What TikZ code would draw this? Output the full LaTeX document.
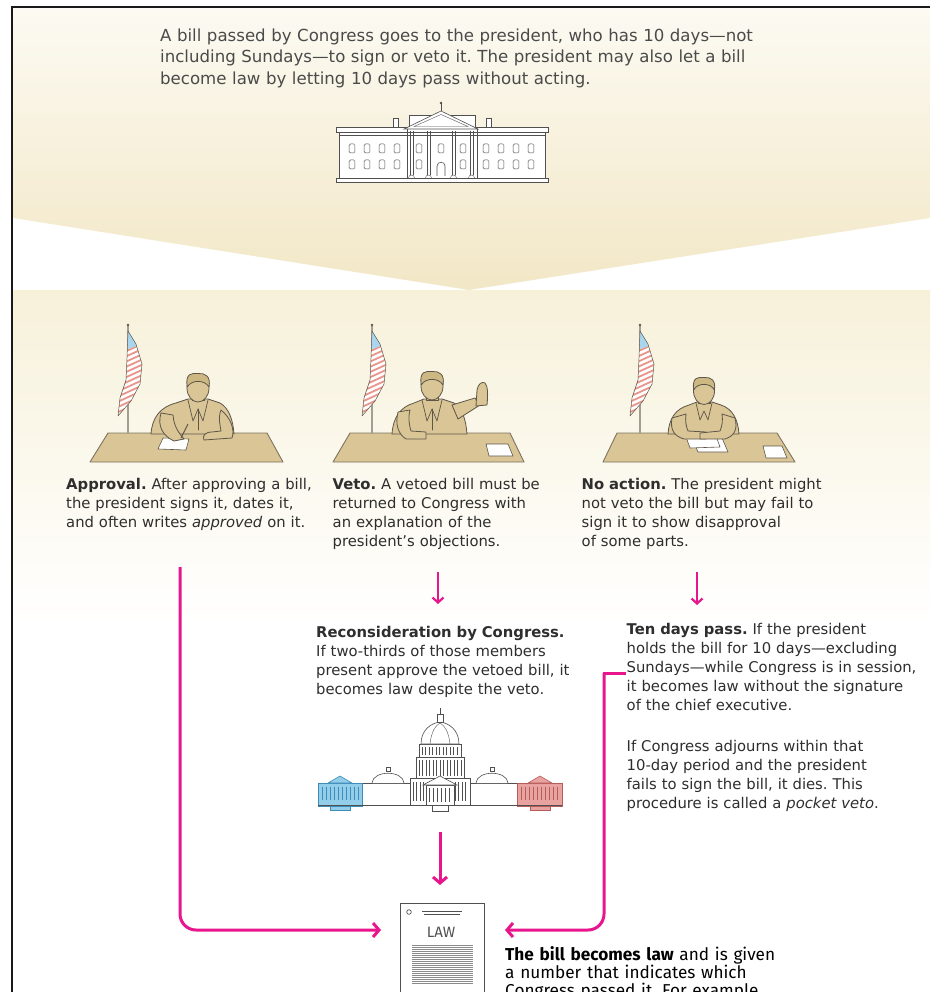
\documentclass[tikz,border=0pt]{standalone}
\usepackage{fontspec}
\setmainfont{DejaVu Sans}
\newfontfamily\firafont{Fira Sans}
\usetikzlibrary{arrows.meta}
\definecolor{pinkc}{HTML}{E8168C}
\definecolor{txt}{HTML}{2E2E2E}
\definecolor{toptxt}{HTML}{4A4A4A}
\definecolor{topA}{HTML}{FCFAF2}
\definecolor{topB}{HTML}{F2E7C6}
\definecolor{bandA}{HTML}{F7F1DA}
\definecolor{tanc}{HTML}{D9C596}
\definecolor{hairc}{HTML}{CDB884}
\definecolor{inkc}{HTML}{5E5648}
\definecolor{deskedge}{HTML}{7D735F}
\definecolor{flagblue}{HTML}{A9D5EF}
\definecolor{flagred}{HTML}{E8958B}
\definecolor{capblue}{HTML}{92CDEA}
\definecolor{capblueink}{HTML}{3E8DB9}
\definecolor{capred}{HTML}{E8A29F}
\definecolor{capredink}{HTML}{B65C59}
\definecolor{bldg}{HTML}{505050}
\definecolor{polec}{HTML}{A39D92}
\definecolor{hatchc}{HTML}{8A8A8A}
\tikzset{
  body/.style={anchor=base west, inner sep=0pt, text width=420pt, align=left, text=txt, font=\fontsize{14.8}{19.1}\selectfont},
  toptext/.style={anchor=base west, inner sep=0pt, text width=720pt, align=left, text=toptxt, font=\fontsize{16.6}{21.4}\selectfont},
  lawtext/.style={anchor=base west, inner sep=0pt, text width=420pt, align=left, text=black, font=\firafont\fontsize{17.2}{18.4}\selectfont},
  bigarrow/.style={draw=pinkc, line width=3pt, -{Straight Barb[length=6pt,width=14pt]}},
  smallarrow/.style={draw=pinkc, line width=2.2pt, -{Straight Barb[length=5pt,width=11pt]}},
  suit/.style={fill=tanc, draw=inkc, line width=0.8pt, line join=round, line cap=round},
  hair/.style={fill=hairc, draw=inkc, line width=0.8pt, line join=round},
  ink/.style={draw=inkc, line width=0.7pt, line cap=round, line join=round},
  desk/.style={fill=tanc, draw=deskedge, line width=0.9pt, line join=round},
  paper/.style={fill=white, draw=inkc, line width=0.6pt, line join=round},
  pole/.style={draw=polec, line width=2.4pt},
  bl/.style={draw=bldg, line width=0.6pt, fill=white},
  bthin/.style={draw=bldg, line width=0.4pt},
  win/.style={draw=bldg, line width=0.5pt, fill=white, rounded corners=1.2pt},
}
\newcommand{\usflag}[1]{%
  \begin{scope}[shift={(#1,0)}]
    \draw[pole] (0,326) -- (0,434);
    \fill[inkc] (0,325) circle (1.4);
    \begin{scope}
      \clip (0,331) -- (8,344) -- (14,364) -- (12,384) -- (3,401) -- (-10,416) -- (-8,398) -- (-2,380) -- (-1,358) -- cycle;
      \fill[white] (-20,320) rectangle (20,420);
      \foreach \k in {0,...,14} \draw[flagred, line width=1.8pt] (-15,352+\k*5.2) -- (20,336+\k*5.2);
      \fill[flagblue] (-20,320) -- (20,320) -- (20,342) -- (-20,356) -- cycle;
    \end{scope}
    \draw[inkc, line width=0.5pt, line join=round] (0,331) -- (8,344) -- (14,364) -- (12,384) -- (3,401) -- (-10,416) -- (-8,398) -- (-2,380) -- (-1,358) -- cycle;
  \end{scope}}
\begin{document}
\frenchspacing
\begin{tikzpicture}[x=1pt,y=-1pt]
\useasboundingbox (0,0) rectangle (930,992);
\fill[white] (0,0) rectangle (930,992);
% backgrounds
\shade[top color=topA, bottom color=topB] (13,8) -- (930,8) -- (930,218) -- (469,290) -- (13,218) -- cycle;
\shade[top color=bandA, bottom color=white] (13,290) rectangle (930,625);
% frame
\draw[black!90, line width=2.2pt] (11,7) -- (930,7);
\draw[black!90, line width=2.4pt] (12,6) -- (12,992);

% intro text
\node[toptext] (intro) at (160,41.5) {A bill passed by Congress goes to the president, who has 10 days—not\\ including Sundays—to sign or veto it. The president may also let a bill\\ become law by letting 10 days pass without acting.};

% White House
\begin{scope}
  \draw[bl] (393,118) rectangle (398,127);
  \draw[bl] (486,118) rectangle (491,127);
  \draw[bl] (409,115) rectangle (475,128);
  \draw[bl] (339,132) rectangle (545,180);
  \draw[bl] (336,127) rectangle (548,132);
  \draw[bthin] (339,135) -- (545,135);
  \draw[bl] (336,178) rectangle (548,182);
  \draw[bl] (404,129) -- (441,111) -- (478,129) -- cycle;
  \draw[bthin] (414,126.5) -- (441,114.5) -- (468,126.5) -- cycle;
  \draw[bthin] (407,129) -- (407,178) (477,129) -- (477,178);
  \foreach \cx in {411.5,428.5,453.5,471.5} {
    \draw[bthin] (\cx-1.6,131) -- (\cx-1.6,175) (\cx+1.6,131) -- (\cx+1.6,175);
    \draw[bthin] (\cx-3,178) .. controls (\cx-3,174) and (\cx+3,174) .. (\cx+3,178);
  }
  \foreach \wx in {352,367,382,397,419,441,463,486,501,516,531} {
    \draw[win] (\wx-2.8,144) rectangle (\wx+2.8,153);
  }
  \foreach \wx in {352,367,382,397,419,463,486,501,516,531} {
    \draw[win] (\wx-2.8,160) rectangle (\wx+2.8,169);
  }
  \draw[bl] (437,176) -- (437,166) .. controls (437,161) and (445,161) .. (445,166) -- (445,176);
  \draw[bldg, line width=0.9pt] (441,111) -- (441,103);
  \fill[bldg] (441,103) circle (1.3);
\end{scope}

% ---------- Scene 1: approval ----------
\draw[desk] (108,433) -- (267,433) -- (283,462) -- (90,462) -- cycle;
\usflag{128}
\draw[suit] (151,434) .. controls (152,418) and (160,407) .. (176,403) -- (188,399) -- (208,399) -- (220,403) .. controls (229,408) and (233,420) .. (234,434) -- cycle;
\draw[suit] (192,394) rectangle (204,400);
\draw[suit] (198,388) ellipse [x radius=11, y radius=14];
\draw[hair] (187.2,387) .. controls (185,373) and (192,373) .. (198,373.5) .. controls (205,373) and (211,376) .. (209,387) .. controls (205,380) and (192,379) .. (187.2,387) -- cycle;
\draw[ink] (188,400) -- (193,421) -- (198,409) -- (203,421) -- (208,400);
\draw[ink] (198,409) -- (198,430);
\draw[paper] (158,449) -- (163,438) -- (189,439) -- (186,450) -- cycle;
\draw[suit] (161,413) .. controls (157,426) and (163,436) .. (174,441) -- (184,439) .. controls (180,434) and (174,428) .. (173,415) -- cycle;
\draw[inkc, line width=1pt] (181,438) -- (188,424);
\draw[suit] (221,410) .. controls (231,418) and (235,430) .. (232,438) -- (204,440) .. controls (202,436) and (205,432) .. (212,432) -- (221,431) .. controls (220,424) and (218,418) .. (221,410) -- cycle;

% ---------- Scene 2: veto ----------
\draw[desk] (350,433) -- (510,433) -- (524,462) -- (333,462) -- cycle;
\usflag{372}
\draw[suit] (392,434) .. controls (393,418) and (400,407) .. (414,403) -- (424,399) -- (442,399) -- (454,403) .. controls (462,407) and (466,420) .. (467,434) -- cycle;
\draw[suit] (426,394) rectangle (438,400);
\draw[suit] (432,386) ellipse [x radius=11, y radius=14];
\draw[hair] (421.2,385) .. controls (419,371) and (426,371) .. (432,371.5) .. controls (439,371) and (445,374) .. (443,385) .. controls (439,378) and (426,377) .. (421.2,385) -- cycle;
\draw[ink] (422,400) -- (427,421) -- (432,409) -- (437,421) -- (442,400);
\draw[ink] (432,409) -- (432,430);
\draw[suit] (452,405) -- (475,398) -- (480,405) -- (458,419) -- cycle;
\draw[suit] (476,406) -- (477,390) .. controls (478,384) and (482,381) .. (485,383) .. controls (488,386) and (488,395) .. (487,405) -- cycle;
\draw[suit] (398,412) .. controls (395,424) and (398,434) .. (406,439) -- (426,439) -- (426,432) -- (411,431) .. controls (409,424) and (408,418) .. (410,410) -- cycle;
\draw[paper] (486,444) -- (508,444) -- (513,456) -- (489,456) -- cycle;

% ---------- Scene 3: no action ----------
\draw[desk] (617,433) -- (777,433) -- (795,462) -- (603,462) -- cycle;
\usflag{640}
\draw[paper] (692,439) -- (722,438) -- (728,452) -- (698,452) -- cycle;
\draw[paper] (686,437) -- (716,436) -- (720,447) -- (690,448) -- cycle;
\draw[suit] (668,434) .. controls (669,419) and (675,409) .. (689,405) -- (697,402) -- (712,402) -- (721,405) .. controls (733,409) and (738,420) .. (739,434) -- cycle;
\draw[suit] (698,397) rectangle (710,403);
\draw[suit] (704,391) ellipse [x radius=10.5, y radius=13.5];
\draw[hair] (693.6,390) .. controls (692,377) and (698,377) .. (704,377.5) .. controls (711,377) and (716,380) .. (714.4,390) .. controls (711,383) and (698,382) .. (693.6,390) -- cycle;
\draw[ink] (696,403) -- (700,420) -- (704,411) -- (708,420) -- (712,403);
\draw[suit] (672,418) .. controls (670,430) and (674,436) .. (684,439) -- (706,439) -- (706,432) -- (688,431) .. controls (686,426) and (685,421) .. (686,414) -- cycle;
\draw[suit] (735,418) .. controls (738,430) and (734,436) .. (725,439) -- (700,439) -- (700,433) -- (720,431) .. controls (722,426) and (723,421) .. (722,414) -- cycle;
\draw[paper] (763,446) -- (782,446) -- (787,458) -- (766,458) -- cycle;

% column texts
\node[body] (approval) at (66,489.3) {\textbf{Approval.} After approving a bill,\\ the president signs it, dates it,\\ and often writes \textit{approved} on it.};
\node[body] (veto) at (332.5,489.3) {\textbf{Veto.} A vetoed bill must be\\ returned to Congress with\\ an explanation of the\\ president’s objections.};
\node[body] (noaction) at (581.5,489.3) {\textbf{No action.} The president might\\ not veto the bill but may fail to\\ sign it to show disapproval\\ of some parts.};
\node[body] (recon) at (316,637.5) {\textbf{Reconsideration by Congress.}\\ If two-thirds of those members\\ present approve the vetoed bill, it\\ becomes law despite the veto.};
\node[body] (tendays) at (626.5,634) {\textbf{Ten days pass.} If the president\\ holds the bill for 10 days—excluding\\ Sundays—while Congress is in session,\\ it becomes law without the signature\\ of the chief executive.};
\node[body] (pocket) at (626.5,751.5) {If Congress adjourns within that\\ 10-day period and the president\\ fails to sign the bill, it dies. This\\ procedure is called a \textit{pocket veto}.};

% Capitol
\begin{scope}
  \draw[bl] (362,783) rectangle (410,805);
  \draw[bl] (470,783) rectangle (517,805);
  \draw[bl] (372,783) .. controls (373,770) and (403,770) .. (404,783);
  \draw[bl] (476,783) .. controls (477,770) and (507,770) .. (508,783);
  \draw[bl] (386,771) rectangle (390,767);
  \draw[bl] (490,771) rectangle (494,767);
  \draw[bl] (416,757) rectangle (464,778);
  \foreach \xx in {419,422.5,...,462} \draw[bthin] (\xx,760) -- (\xx,776);
  \draw[bl] (419,744) rectangle (461,757);
  \foreach \xx in {422,425.5,...,459} \draw[bthin] (\xx,747) -- (\xx,755);
  \draw[bl] (421,744) .. controls (421,730) and (431,723) .. (440,722) .. controls (449,723) and (459,730) .. (459,744) -- cycle;
  \draw[bthin] (430,744) .. controls (431,732) and (436,725) .. (440,723) (450,744) .. controls (449,732) and (444,725) .. (440,723);
  \draw[bl] (437,722) rectangle (443,714);
  \draw[bldg, line width=0.8pt] (440,714) -- (440,708);
  \draw[bl] (410,778) rectangle (470,805);
  \foreach \xx in {413,416.5,...,468} \draw[bthin] (\xx,782) -- (\xx,801);
  \draw[bl] (426,785) rectangle (454,805);
  \foreach \xx in {429,433,...,452} \draw[bthin] (\xx,788) -- (\xx,802);
  \draw[bl] (423,785) -- (440,776) -- (457,785) -- cycle;
  \draw[bl] (432,805) rectangle (448,811);
  \draw[fill=capblue, draw=capblueink, line width=0.6pt] (318,783) rectangle (362,806);
  \draw[fill=capblue, draw=capblueink, line width=0.6pt] (328,783) -- (340,776) -- (352,783) -- cycle;
  \foreach \xx in {322,326,...,358} \draw[capblueink, line width=0.4pt] (\xx,787) -- (\xx,800);
  \draw[fill=capblue, draw=capblueink, line width=0.6pt] (330,806) rectangle (350,810);
  \draw[fill=capred, draw=capredink, line width=0.6pt] (517,783) rectangle (562,806);
  \draw[fill=capred, draw=capredink, line width=0.6pt] (528,783) -- (540,776) -- (552,783) -- cycle;
  \foreach \xx in {521,525,...,558} \draw[capredink, line width=0.4pt] (\xx,787) -- (\xx,800);
  \draw[fill=capred, draw=capredink, line width=0.6pt] (530,806) rectangle (550,810);
  \draw[bldg, line width=0.7pt] (318,805.5) -- (562,805.5);
\end{scope}

% LAW document
\node[draw=bldg, fill=white, line width=0.8pt, minimum width=84pt, minimum height=120pt, anchor=north west, inner sep=0pt] (law) at (400,903) {};
\draw[bldg, line width=0.7pt] (409,912) circle (2.3);
\draw[bldg, line width=0.6pt] (422,911.5) -- (462,911.5) (424,914.5) -- (460,914.5);
\node[text=bldg, font=\firafont\fontsize{15}{15}\selectfont, inner sep=0pt] (lawlabel) at (441,932) {LAW};
\foreach \yy in {945,947,...,983} \draw[hatchc, line width=0.9pt] (412,\yy) -- (473,\yy);

\node[lawtext] (becomes) at (505,960) {\textbf{The bill becomes law} and is given\\ a number that indicates which\\ Congress passed it. For example,};

% connectors
\coordinate (a1s) at (180,567);
\coordinate (lawL) at (381,930);
\coordinate (lawR) at (505,930);
\coordinate (vetoS) at (438,572);
\coordinate (vetoE) at (438,604);
\coordinate (noS) at (697,572);
\coordinate (noE) at (697,605);
\coordinate (capS) at (440,832);
\coordinate (capE) at (440,885);
\coordinate (tenS) at (624,673);
\coordinate (tenC) at (604,673);
\draw[bigarrow, rounded corners=16pt] (a1s) |- (lawL);
\draw[bigarrow, rounded corners=16pt] (tenC) |- (lawR);
\draw[draw=pinkc, line width=3pt, line cap=rect] (tenS) -- (tenC);
\draw[smallarrow] (vetoS) -- (vetoE);
\draw[smallarrow] (noS) -- (noE);
\draw[bigarrow] (capS) -- (capE);
\end{tikzpicture}
\end{document}
